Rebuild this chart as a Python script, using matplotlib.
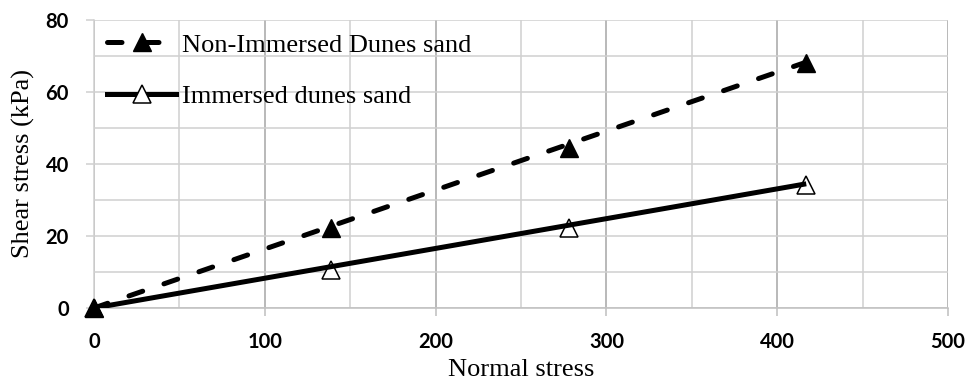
import matplotlib
matplotlib.use("Agg")
import matplotlib.pyplot as plt
from matplotlib.lines import Line2D
from matplotlib.ticker import MultipleLocator

# shear box results
normal_stress = [0, 139, 278, 417]
shear_dry = [0, 22.2, 44.4, 68.0]
shear_wet = [0, 10.6, 22.2, 34.2]

# linear trend lines (through origin)
trend_x = [0, 417]
trend_dry = [0, 68.3]
trend_wet = [0, 34.5]

label_dry = "Non-Immersed Dunes sand"
label_wet = "Immersed dunes sand"

serif = "Liberation Serif"
tickfont = {"family": "Lato", "weight": "bold", "size": 14.5}

fig = plt.figure(figsize=(9.68, 3.82), dpi=100)
ax = fig.add_axes([94 / 968, 1 - 308 / 382, (948 - 94) / 968, (308 - 20) / 382])

ax.set_xlim(0, 500)
ax.set_ylim(0, 80)
ax.xaxis.set_major_locator(MultipleLocator(100))
ax.xaxis.set_minor_locator(MultipleLocator(50))
ax.yaxis.set_major_locator(MultipleLocator(20))
ax.yaxis.set_minor_locator(MultipleLocator(10))

ax.grid(which="major", axis="x", color="#a6a6a6", lw=1.1)
ax.grid(which="minor", axis="x", color="#d0d0d0", lw=1.1)
ax.grid(which="both", axis="y", color="#d0d0d0", lw=1.1)
ax.set_axisbelow(True)

for s in ["top", "right"]:
    ax.spines[s].set_visible(False)
ax.spines["left"].set_color("#d0d0d0")
ax.spines["left"].set_linewidth(1.1)
ax.spines["bottom"].set_color("#bfbfbf")
ax.spines["bottom"].set_linewidth(1.1)

ax.tick_params(axis="x", which="major", length=6, width=1.1, color="#bfbfbf", pad=11)
ax.tick_params(axis="y", which="major", length=6, width=1.1, color="#d0d0d0", pad=12)
ax.tick_params(which="minor", length=0)
for lab in ax.get_xticklabels() + ax.get_yticklabels():
    lab.set_fontfamily(tickfont["family"])
    lab.set_fontweight(tickfont["weight"])
    lab.set_fontsize(tickfont["size"])

# markers
ax.plot(normal_stress, shear_wet, ls="none", marker="^", ms=13.5, mfc="white",
        mec="black", mew=1.1, zorder=3, clip_on=False)
ax.plot(normal_stress, shear_dry, ls="none", marker="^", ms=13.5, mfc="black",
        mec="black", zorder=3, clip_on=False)

# trend lines on top of markers
ax.plot(trend_x, trend_wet, color="black", lw=3.6, solid_capstyle="butt", zorder=4)
ax.plot(trend_x, trend_dry, color="black", lw=3.6, dashes=(2.9, 4.5),
        dash_capstyle="round", zorder=4)

ax.set_xlabel("Normal stress", family=serif, fontsize=19, labelpad=5)
ax.set_ylabel("Shear stress (kPa)", family=serif, fontsize=19, labelpad=8)

handles = [
    Line2D([], [], color="black", lw=3.6, dashes=(2.9, 4.5), dash_capstyle="round",
           marker="^", ms=13.5, mfc="black", mec="black"),
    Line2D([], [], color="black", lw=3.6, marker="^", ms=13.5, mfc="white",
           mec="black", mew=1.1),
]
leg = ax.legend(handles, [label_dry, label_wet], loc="upper left",
                bbox_to_anchor=(0.0, 1.0), frameon=False, handlelength=2.6,
                handletextpad=0.25, labelspacing=1.05, borderaxespad=0.05,
                borderpad=0.45, prop={"family": serif, "size": 19})

fig.savefig("out.png", dpi=100)
